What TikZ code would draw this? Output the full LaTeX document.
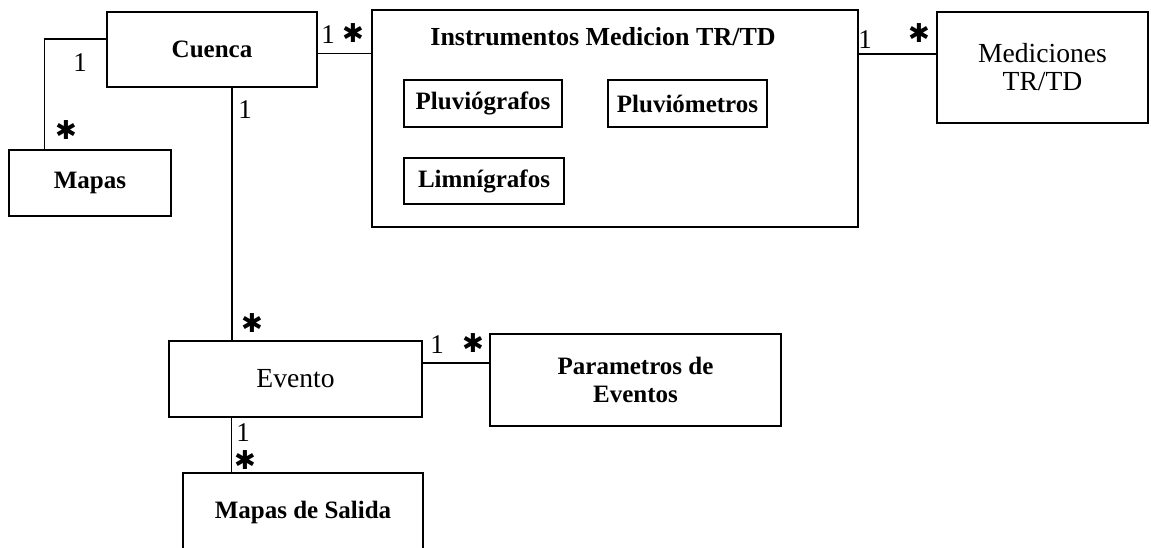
\documentclass[tikz,border=0pt]{standalone}
\usepackage{fontspec}
\setmainfont{Liberation Serif}
\newfontfamily\starfont{DejaVu Sans}

\begin{document}
\begin{tikzpicture}[x=0.5pt, y=-0.5pt,
  cls/.style={draw, line width=0.8pt, inner sep=0pt, align=center, font=\fontsize{12.5}{14}\selectfont},
  one/.style={inner sep=0pt, font=\fontsize{13.5}{14}\selectfont},
  many/.style={inner sep=0pt, font=\starfont\fontsize{13}{14}\selectfont}]
        	\clip (0,0) rectangle (1151,547);
        	% Classes, links and multiplicities:
        	\node[cls, minimum width=105pt, minimum height=37.5pt] (cuenca) at (212,49.5) {\textbf{Cuenca}};
        	\node[cls, minimum width=81pt, minimum height=33pt] (mapas) at (90,183) {\textbf{Mapas}};
        	\node[cls, minimum width=243pt, minimum height=108.5pt] (instr) at (615,118.5) {};
        	\node[inner sep=0pt, font=\fontsize{13}{14}\selectfont\bfseries] (instrtitle) at (603,37) {Instrumentos Medicion TR/TD};
        	\node[cls, minimum width=79pt, minimum height=23.5pt] (pluviog) at (483,103.5) {\textbf{Pluviógrafos}};
        	\node[cls, minimum width=79.5pt, minimum height=23.5pt] (pluviom) at (687.5,103.5) {\textbf{Pluviómetros}};
        	\node[cls, minimum width=80pt, minimum height=23pt] (limni) at (484,181) {\textbf{Limnígrafos}};
        	\node[cls, minimum width=105.5pt, minimum height=55.5pt, font=\fontsize{13.8}{14}\selectfont] (medic) at (1042.5,67.5) {Mediciones\\TR/TD};
        	\node[cls, minimum width=126.5pt, minimum height=38pt, font=\fontsize{13.8}{14}\selectfont] (evento) at (295.5,379) {Evento};
        	\node[cls, minimum width=145.5pt, minimum height=46pt] (param) at (635.5,380) {\textbf{Parametros de}\\\textbf{Eventos}};
        	\node[cls, minimum width=120pt, minimum height=39.5pt] (salida) at (303,512.5) {\textbf{Mapas de Salida}};
        	\draw[line width=0.7pt] ([xshift=18pt]mapas.north west) |- ([yshift=5.25pt]cuenca.west);
        	\draw[line width=0.7pt] ([yshift=-2pt]cuenca.east) -- ([yshift=-2pt]cuenca.east -| instr.west);
        	\draw[line width=0.7pt] ([xshift=10pt]cuenca.south) -- ([xshift=10pt]cuenca.south |- evento.north);
        	\draw[line width=0.7pt] ([yshift=6.75pt]medic.west) -- ([yshift=6.75pt]medic.west -| instr.east);
        	\draw[line width=0.7pt] ([yshift=8pt]evento.east) -- ([yshift=8pt]evento.east -| param.west);
        	\draw[line width=0.7pt] ([xshift=-32pt]evento.south) -- ([xshift=-32pt]evento.south |- salida.north);
        	\node[one] (m1) at (80,63) {1};
        	\node[many] (m2) at (66,130) {✱};
        	\node[one] (m3) at (328,35) {1};
        	\node[many] (m4) at (353,33) {✱};
        	\node[one] (m5) at (245,110) {1};
        	\node[many] (m6) at (252,323) {✱};
        	\node[one] (m7) at (865,40) {1};
        	\node[many] (m8) at (919,33) {✱};
        	\node[one] (m9) at (437,345) {1};
        	\node[many] (m10) at (473,343) {✱};
        	\node[one] (m11) at (243,433) {1};
        	\node[many] (m12) at (245,460) {✱};
        \end{tikzpicture}
\end{document}
